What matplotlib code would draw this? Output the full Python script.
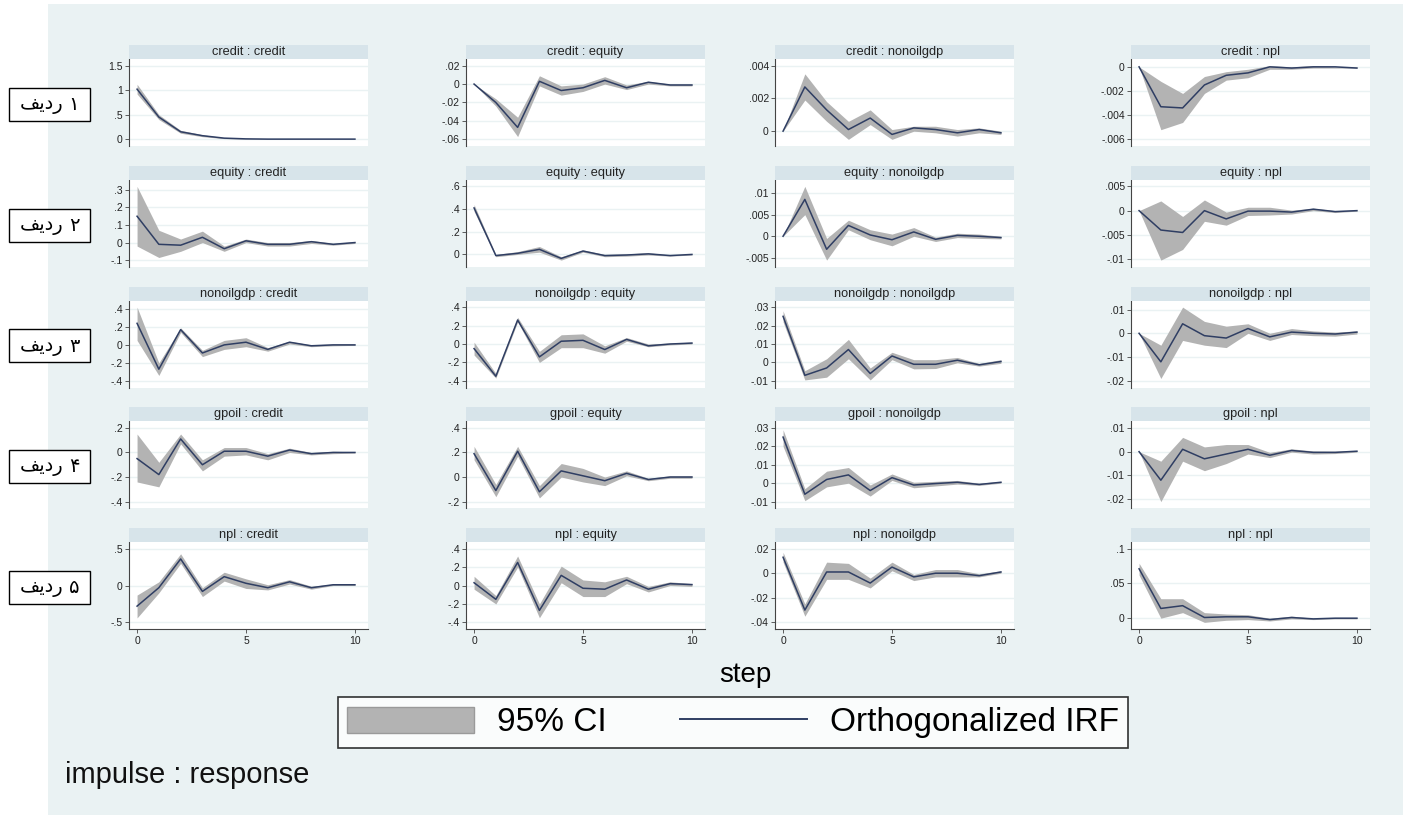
import matplotlib
matplotlib.use("Agg")
import matplotlib.pyplot as plt
from matplotlib.patches import Rectangle, Patch
from matplotlib.lines import Line2D
from matplotlib.ticker import FuncFormatter
import numpy as np

# ---------------- data ----------------
step = [0, 1, 2, 3, 4, 5, 6, 7, 8, 9, 10]
variables = ["credit", "equity", "nonoilgdp", "npl"]
impulses = ["credit", "equity", "nonoilgdp", "gpoil", "npl"]
row_word = "\uFED2\uFEF3\uFEA9\uFEAD"          # ردیف (presentation forms, visual order)
row_digits = ["\u06F1", "\u06F2", "\u06F3", "\u06F4", "\u06F5"]
xticks = [0, 5, 10]

# row 1 : impulse credit
credit_credit_irf = [1.02, 0.45, 0.15, 0.07, 0.02, 0.005, 0, 0, 0, 0, 0]
credit_credit_lo = [0.92, 0.40, 0.12, 0.05, 0.01, 0, -0.005, -0.005, -0.005, -0.003, -0.003]
credit_credit_hi = [1.12, 0.50, 0.18, 0.09, 0.03, 0.01, 0.005, 0.004, 0.003, 0.003, 0.003]
credit_credit_ticks = [0, 0.5, 1, 1.5]

credit_equity_irf = [0, -0.02, -0.047, 0.003, -0.007, -0.004, 0.004, -0.004, 0.002, -0.001, -0.001]
credit_equity_lo = [0, -0.024, -0.057, -0.002, -0.012, -0.008, 0.0, -0.006, 0.0, -0.002, -0.002]
credit_equity_hi = [0, -0.016, -0.036, 0.009, -0.002, 0.0, 0.008, -0.001, 0.003, 0.0, 0.0]
credit_equity_ticks = [-0.06, -0.04, -0.02, 0, 0.02]

credit_nonoilgdp_irf = [0, 0.0027, 0.0013, 0.0001, 0.0008, -0.0002, 0.0002, 0.0001, -0.0001, 0.0001, -0.0001]
credit_nonoilgdp_lo = [0, 0.0019, 0.0006, -0.0005, 0.0004, -0.0005, 0.0, -0.0001, -0.0003, -0.0001, -0.0002]
credit_nonoilgdp_hi = [0, 0.0035, 0.0018, 0.0006, 0.0013, 0.0001, 0.0003, 0.0003, 0.0001, 0.0002, 0.0]
credit_nonoilgdp_ticks = [0, 0.002, 0.004]

credit_npl_irf = [0, -0.0033, -0.0034, -0.0015, -0.0007, -0.0005, 0, -0.0001, 0, 0, -0.0001]
credit_npl_lo = [0, -0.0052, -0.0046, -0.0022, -0.0011, -0.0009, -0.0002, -0.0002, -0.0001, -0.0001, -0.0001]
credit_npl_hi = [0, -0.0012, -0.0022, -0.0008, -0.0004, -0.0002, 0.0001, 0.0, 0.0001, 0.0, 0.0]
credit_npl_ticks = [-0.006, -0.004, -0.002, 0]

# row 2 : impulse equity
equity_credit_irf = [0.15, -0.01, -0.015, 0.03, -0.035, 0.01, -0.01, -0.01, 0.005, -0.01, 0.0]
equity_credit_lo = [-0.02, -0.085, -0.05, 0.0, -0.05, 0.0, -0.02, -0.02, -0.005, -0.015, -0.005]
equity_credit_hi = [0.32, 0.07, 0.02, 0.065, -0.02, 0.02, 0.0, 0.0, 0.012, -0.005, 0.005]
equity_credit_ticks = [-0.1, 0, 0.1, 0.2, 0.3]

equity_equity_irf = [0.41, -0.01, 0.01, 0.045, -0.035, 0.03, -0.01, -0.005, 0.005, -0.01, 0.0]
equity_equity_lo = [0.38, -0.02, 0.0, 0.02, -0.05, 0.02, -0.02, -0.015, -0.005, -0.015, -0.005]
equity_equity_hi = [0.44, 0.0, 0.025, 0.07, -0.02, 0.04, 0.0, 0.005, 0.015, -0.005, 0.005]
equity_equity_ticks = [0, 0.2, 0.4, 0.6]

equity_nonoilgdp_irf = [0, 0.0085, -0.003, 0.0025, 0.0003, -0.0008, 0.001, -0.0007, 0.0002, 0.0, -0.0003]
equity_nonoilgdp_lo = [0, 0.005, -0.0055, 0.0015, -0.0008, -0.0022, 0.0, -0.0012, -0.0003, -0.0005, -0.0006]
equity_nonoilgdp_hi = [0, 0.0115, -0.0005, 0.0037, 0.0015, 0.0005, 0.002, -0.0002, 0.0007, 0.0005, 0.0]
equity_nonoilgdp_ticks = [-0.005, 0, 0.005, 0.01]

equity_npl_irf = [0, -0.004, -0.0045, 0.0, -0.0017, -0.0001, -0.0001, -0.0003, 0.0003, -0.0002, 0.0]
equity_npl_lo = [0, -0.0102, -0.008, -0.0022, -0.003, -0.001, -0.0009, -0.0007, 0.0, -0.0004, -0.0001]
equity_npl_hi = [0, 0.002, -0.0012, 0.0022, -0.0003, 0.0007, 0.0007, 0.0001, 0.0005, 0.0, 0.0001]
equity_npl_ticks = [-0.01, -0.005, 0, 0.005]

# row 3 : impulse nonoilgdp
nonoilgdp_credit_irf = [0.24, -0.27, 0.17, -0.09, 0.0, 0.03, -0.05, 0.03, -0.01, 0.0, 0.0]
nonoilgdp_credit_lo = [0.05, -0.34, 0.14, -0.13, -0.05, -0.02, -0.07, 0.01, -0.02, -0.01, -0.005]
nonoilgdp_credit_hi = [0.42, -0.20, 0.19, -0.06, 0.05, 0.08, -0.03, 0.04, 0.0, 0.01, 0.01]
nonoilgdp_credit_ticks = [-0.4, -0.2, 0, 0.2, 0.4]

nonoilgdp_equity_irf = [-0.05, -0.35, 0.26, -0.14, 0.03, 0.04, -0.06, 0.05, -0.02, 0.0, 0.01]
nonoilgdp_equity_lo = [-0.12, -0.37, 0.24, -0.20, -0.04, -0.04, -0.10, 0.03, -0.03, -0.01, 0.0]
nonoilgdp_equity_hi = [0.02, -0.32, 0.29, -0.08, 0.10, 0.11, -0.02, 0.07, 0.0, 0.01, 0.02]
nonoilgdp_equity_ticks = [-0.4, -0.2, 0, 0.2, 0.4]

nonoilgdp_nonoilgdp_irf = [0.025, -0.007, -0.003, 0.007, -0.006, 0.0035, -0.001, -0.001, 0.0012, -0.0013, 0.0005]
nonoilgdp_nonoilgdp_lo = [0.022, -0.0095, -0.008, 0.002, -0.0095, 0.0015, -0.0035, -0.0033, -0.0002, -0.002, -0.0005]
nonoilgdp_nonoilgdp_hi = [0.028, -0.0045, 0.002, 0.0125, -0.003, 0.0055, 0.0015, 0.0015, 0.0027, -0.0005, 0.0015]
nonoilgdp_nonoilgdp_ticks = [-0.01, 0, 0.01, 0.02, 0.03]

nonoilgdp_npl_irf = [0, -0.012, 0.004, -0.001, -0.002, 0.002, -0.0015, 0.0005, 0.0, -0.0003, 0.0005]
nonoilgdp_npl_lo = [0, -0.019, -0.003, -0.005, -0.006, 0.0, -0.003, -0.0005, -0.001, -0.0012, -0.0003]
nonoilgdp_npl_hi = [0, -0.005, 0.011, 0.005, 0.003, 0.004, 0.0, 0.002, 0.001, 0.0005, 0.001]
nonoilgdp_npl_ticks = [-0.02, -0.01, 0, 0.01]

# row 4 : impulse gpoil
gpoil_credit_irf = [-0.05, -0.18, 0.11, -0.10, 0.01, 0.01, -0.03, 0.02, -0.01, 0.0, 0.0]
gpoil_credit_lo = [-0.24, -0.28, 0.07, -0.15, -0.03, -0.02, -0.06, 0.0, -0.02, -0.01, -0.005]
gpoil_credit_hi = [0.15, -0.08, 0.15, -0.06, 0.04, 0.04, -0.01, 0.035, 0.0, 0.01, 0.005]
gpoil_credit_ticks = [-0.4, -0.2, 0, 0.2]

gpoil_equity_irf = [0.19, -0.11, 0.21, -0.12, 0.05, 0.01, -0.03, 0.03, -0.02, 0.0, 0.0]
gpoil_equity_lo = [0.14, -0.16, 0.17, -0.17, 0.0, -0.04, -0.07, 0.01, -0.03, -0.01, -0.01]
gpoil_equity_hi = [0.25, -0.06, 0.25, -0.07, 0.11, 0.07, 0.0, 0.05, -0.01, 0.01, 0.01]
gpoil_equity_ticks = [-0.2, 0, 0.2, 0.4]

gpoil_nonoilgdp_irf = [0.025, -0.006, 0.002, 0.0045, -0.004, 0.003, -0.001, -0.0002, 0.0005, -0.0007, 0.0005]
gpoil_nonoilgdp_lo = [0.020, -0.0095, -0.002, 0.0, -0.007, 0.0015, -0.0025, -0.0015, -0.0005, -0.0012, 0.0]
gpoil_nonoilgdp_hi = [0.029, -0.003, 0.0065, 0.0085, -0.001, 0.005, 0.0005, 0.001, 0.0015, 0.0, 0.001]
gpoil_nonoilgdp_ticks = [-0.01, 0, 0.01, 0.02, 0.03]

gpoil_npl_irf = [0, -0.012, 0.001, -0.003, -0.001, 0.001, -0.0015, 0.0005, -0.0003, -0.0003, 0.0002]
gpoil_npl_lo = [0, -0.021, -0.004, -0.008, -0.005, -0.001, -0.0025, -0.0002, -0.001, -0.0008, -0.0002]
gpoil_npl_hi = [0, -0.004, 0.006, 0.002, 0.003, 0.003, -0.0003, 0.0012, 0.0003, 0.0002, 0.0005]
gpoil_npl_ticks = [-0.02, -0.01, 0, 0.01]

# row 5 : impulse npl
npl_credit_irf = [-0.28, -0.03, 0.36, -0.08, 0.12, 0.03, -0.03, 0.05, -0.03, 0.01, 0.01]
npl_credit_lo = [-0.44, -0.10, 0.30, -0.15, 0.06, -0.04, -0.06, 0.02, -0.05, 0.0, 0.0]
npl_credit_hi = [-0.13, 0.05, 0.43, -0.03, 0.18, 0.09, 0.01, 0.08, -0.01, 0.02, 0.02]
npl_credit_ticks = [-0.5, 0, 0.5]

npl_equity_irf = [0.03, -0.15, 0.25, -0.27, 0.11, -0.03, -0.04, 0.06, -0.04, 0.02, 0.01]
npl_equity_lo = [-0.04, -0.20, 0.20, -0.35, 0.03, -0.12, -0.12, 0.02, -0.07, 0.0, -0.01]
npl_equity_hi = [0.10, -0.11, 0.32, -0.20, 0.21, 0.06, 0.04, 0.10, -0.01, 0.04, 0.02]
npl_equity_ticks = [-0.4, -0.2, 0, 0.2, 0.4]

npl_nonoilgdp_irf = [0.013, -0.030, 0.001, 0.001, -0.008, 0.005, -0.003, 0.0, 0.0, -0.002, 0.001]
npl_nonoilgdp_lo = [0.009, -0.035, -0.005, -0.005, -0.012, 0.002, -0.006, -0.003, -0.003, -0.003, 0.0]
npl_nonoilgdp_hi = [0.017, -0.025, 0.009, 0.008, -0.004, 0.009, -0.001, 0.003, 0.003, -0.0005, 0.002]
npl_nonoilgdp_ticks = [-0.04, -0.02, 0, 0.02]

npl_npl_irf = [0.071, 0.014, 0.018, 0.001, 0.002, 0.002, -0.002, 0.001, -0.001, 0.0, 0.0]
npl_npl_lo = [0.062, 0.0, 0.008, -0.006, -0.003, -0.002, -0.004, -0.001, -0.002, -0.001, -0.001]
npl_npl_hi = [0.079, 0.028, 0.028, 0.008, 0.006, 0.005, 0.0, 0.003, 0.0, 0.001, 0.001]
npl_npl_ticks = [0, 0.05, 0.1]

# ---------------- style / layout ----------------
W, H = 1403, 818
BG = "#eaf2f3"
STRIP = "#d7e4ea"
BAND = "#b3b3b3"
LINE = "#2f3e63"

plt.rcParams["font.family"] = ["Liberation Sans", "DejaVu Sans"]

fig = plt.figure(figsize=(W / 100, H / 100), dpi=100)
fig.patch.set_facecolor("white")
fig.add_artist(Rectangle((48 / W, 1 - 815 / H), (W - 48) / W, (815 - 4) / H,
                         transform=fig.transFigure, facecolor=BG, edgecolor="none", zorder=-10))

col_left = [129, 466, 775, 1131]
col_w = 239
strip_h = 14
plot_h = 87


def fx(px):
    return px / W


def fy(py):
    return 1 - py / H


def stata_fmt(v, pos=None):
    v = round(v, 8)
    if abs(v) < 1e-12:
        return "0"
    s = f"{v:g}"
    if s.startswith("0."):
        s = s[1:]
    elif s.startswith("-0."):
        s = "-" + s[2:]
    return s


g = globals()
for r, imp in enumerate(impulses):
    top = 45 + 120.75 * r
    ptop = top + strip_h
    for c, resp in enumerate(variables):
        key = f"{imp}_{resp}"
        irf = g[key + "_irf"]
        lo = g[key + "_lo"]
        hi = g[key + "_hi"]
        ticks = g[key + "_ticks"]
        x0 = col_left[c]
        ax = fig.add_axes([fx(x0), fy(ptop + plot_h), col_w / W, plot_h / H])
        ax.set_facecolor("white")
        ax.fill_between(step, lo, hi, color=BAND, lw=0, zorder=2)
        ax.plot(step, irf, color=LINE, lw=1.1, zorder=3)
        ymin = min(min(lo), ticks[0])
        ymax = max(max(hi), ticks[-1])
        m = 0.09 * (ymax - ymin)
        ax.set_ylim(ymin - m, ymax + m)
        ax.set_xlim(-0.37, 10.6)
        ax.set_yticks(ticks)
        ax.yaxis.set_major_formatter(FuncFormatter(stata_fmt))
        ax.yaxis.grid(True, color=BG, lw=1.0, zorder=0)
        ax.set_axisbelow(True)
        for s in ["top", "right"]:
            ax.spines[s].set_visible(False)
        ax.spines["left"].set_color("#444444")
        ax.spines["left"].set_linewidth(0.8)
        ax.tick_params(axis="y", length=3, width=0.6, color="#444444",
                       labelsize=7.5, pad=1.5, labelcolor="#222222")
        if r == len(impulses) - 1:
            ax.spines["bottom"].set_color("#444444")
            ax.spines["bottom"].set_linewidth(0.8)
            ax.set_xticks(xticks)
            ax.tick_params(axis="x", length=3, width=0.6, color="#444444",
                           labelsize=7.5, pad=2, labelcolor="#222222")
        else:
            ax.spines["bottom"].set_visible(False)
            ax.set_xticks([])
        # strip
        sax = fig.add_axes([fx(x0), fy(ptop), col_w / W, strip_h / H])
        sax.set_facecolor(STRIP)
        for s in sax.spines.values():
            s.set_visible(False)
        sax.set_xticks([])
        sax.set_yticks([])
        sax.text(0.5, 0.5, f"{imp} : {resp}", ha="center", va="center",
                 fontsize=9.2, color="#222222", transform=sax.transAxes)
    # row label box
    cy = ptop + plot_h / 2 + 2
    bx, bw, bh = 9, 81, 33
    fig.add_artist(Rectangle((fx(bx), fy(cy + bh / 2)), bw / W, bh / H,
                             transform=fig.transFigure, facecolor="white",
                             edgecolor="black", lw=1.0, zorder=5))
    fig.text(fx(bx + 33), fy(cy), row_word, ha="center", va="center",
             fontsize=14, family=["DejaVu Sans"], zorder=6)
    fig.text(fx(bx + 65), fy(cy), row_digits[r], ha="center", va="center",
             fontsize=14, family=["DejaVu Sans"], zorder=6)

fig.text(fx(745), fy(675), "step", ha="center", va="center", fontsize=20, color="black")
fig.text(fx(65), fy(775), "impulse : response", ha="left", va="center", fontsize=21, color="#111111")

handles = [Patch(facecolor=BAND, edgecolor="#9a9a9a", lw=1.0),
           Line2D([0], [0], color=LINE, lw=1.4)]
leg = fig.legend(handles, ["95% CI", "Orthogonalized IRF"], loc="center",
                 bbox_to_anchor=(fx(733), fy(722.5)), ncol=2, fontsize=24,
                 frameon=True, fancybox=False, edgecolor="black",
                 handlelength=3.8, handleheight=0.85, handletextpad=0.7,
                 columnspacing=2.2, borderpad=0.28, borderaxespad=0)
leg.get_frame().set_linewidth(1.2)
leg.get_frame().set_facecolor("white")

fig.savefig("out.png", dpi=100, facecolor=fig.get_facecolor())
